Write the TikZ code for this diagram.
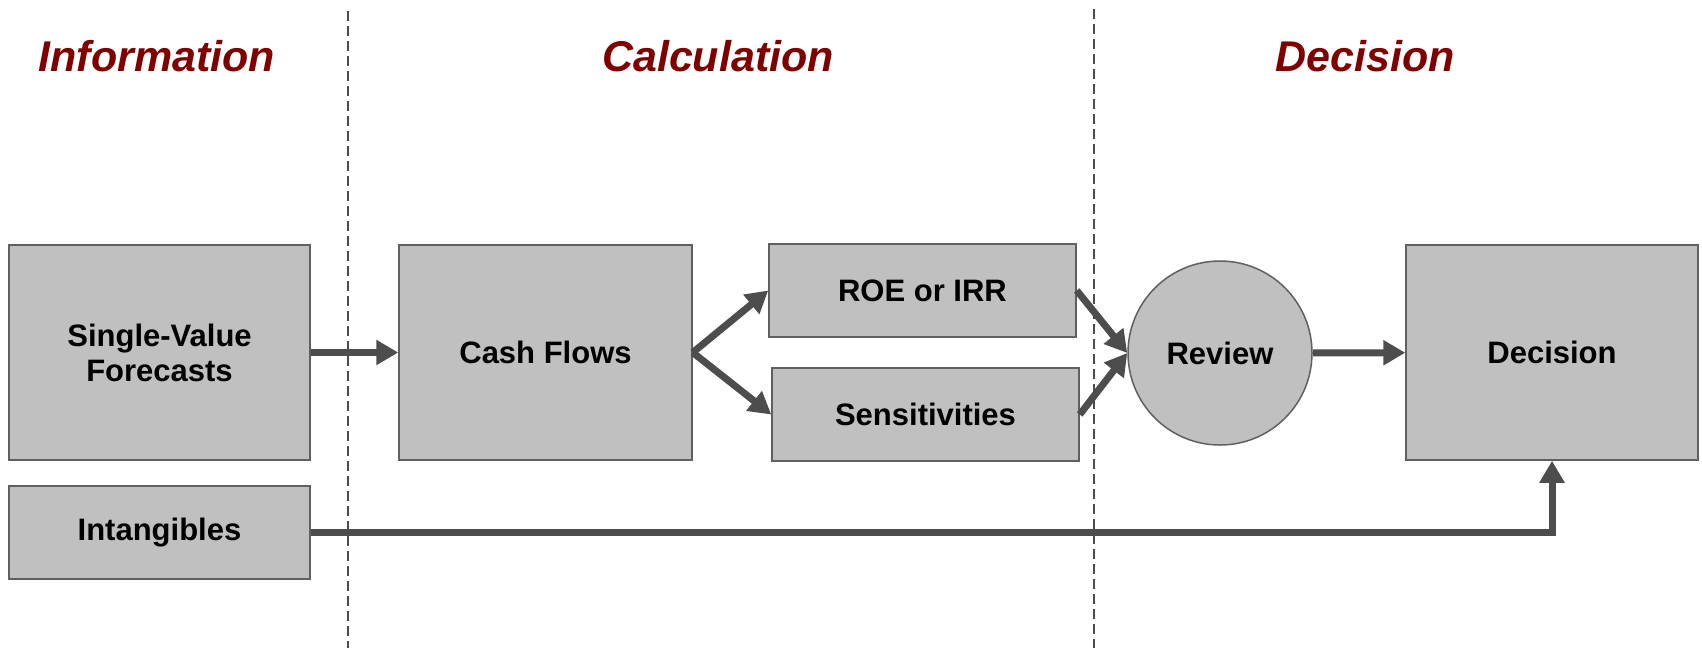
\documentclass[tikz,border=0pt]{standalone}
\usepackage{fontspec}
\setmainfont{Liberation Sans}
\usetikzlibrary{arrows.meta}
\definecolor{boxgray}{HTML}{C0C0C0}
\definecolor{edgegray}{HTML}{606060}
\definecolor{flowgray}{HTML}{4D4D4D}
\definecolor{headred}{HTML}{800000}
\begin{document}
\begin{tikzpicture}[x=1pt,y=-1pt,
    box/.style={draw=edgegray,line width=1.5pt,fill=boxgray,inner sep=0pt,align=center,
        font=\fontsize{31}{35}\selectfont\bfseries},
    flow/.style={draw=flowgray,line width=7pt,-{Triangle[length=22pt,width=24pt]}},
    heading/.style={text=headred,font=\fontsize{43}{48}\selectfont\bfseries\itshape},
    divider/.style={draw=black!70,line width=1.6pt,dash pattern=on 10pt off 5pt}]
    \useasboundingbox (0,0) rectangle (1702,648);
    % column headings
    \node[heading] (hinfo) at (157,56) {Information};
    \node[heading] (hcalc) at (718,56) {Calculation};
    \node[heading] (hdec) at (1365,56) {Decision};
    \draw[divider] (348,11) -- (348,648);
    \draw[divider] (1094,9) -- (1094,648);
    % boxes
    \node[box,minimum width=301pt,minimum height=215pt] (svf) at (159.5,352.5) {Single-Value\\Forecasts};
    \node[box,minimum width=301pt,minimum height=93pt] (intang) at (159.5,532.5) {Intangibles};
    \node[box,minimum width=293pt,minimum height=215pt] (cash) at (545.5,352.5) {Cash Flows};
    \node[box,minimum width=307pt,minimum height=93pt] (roe) at (922.5,290.5) {ROE or IRR};
    \node[box,minimum width=307pt,minimum height=93pt] (sens) at (925.5,414.5) {Sensitivities};
    \node[box,circle,minimum size=184pt] (review) at (1220,353) {Review};
    \node[box,minimum width=292pt,minimum height=215pt] (dec) at (1552,352.5) {Decision};
    % flows
    \draw[flow] (svf) -- (cash);
    \draw[flow] (cash.east) -- (roe.west);
    \draw[flow] (cash.east) -- (sens.west);
    \draw[flow] (roe.east) -- (review.west);
    \draw[flow] (sens.east) -- (review.west);
    \draw[flow] (review) -- (dec);
    \draw[flow] (intang.east) -| (dec.south);
\end{tikzpicture}
\end{document}
